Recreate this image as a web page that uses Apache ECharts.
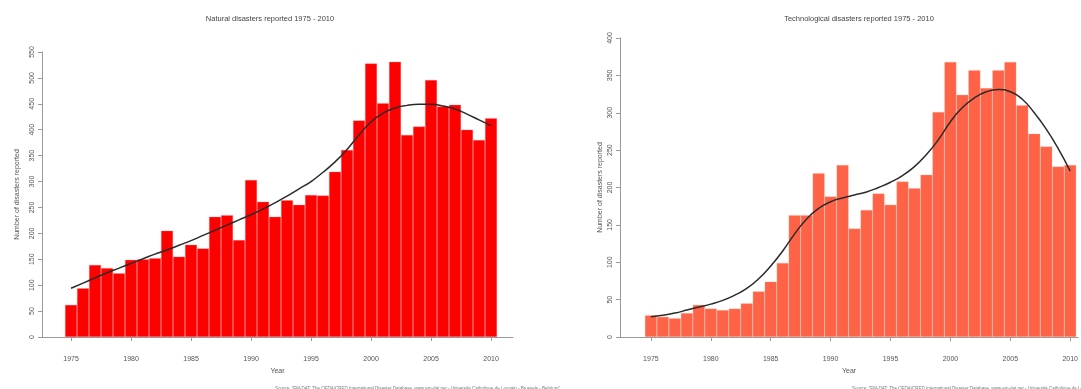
<!DOCTYPE html>
<html>
<head>
<meta charset="utf-8">
<script src="https://cdn.jsdelivr.net/npm/echarts@6/dist/echarts.min.js"></script>
<style>
  html, body { margin: 0; padding: 0; background: #fff; }
  #chart { width: 1081px; height: 389px; }
</style>
</head>
<body>
<div id="chart"></div>
<script>
// Yearly counts of reported disasters, 1975-2010
const years = [1975, 1976, 1977, 1978, 1979, 1980, 1981, 1982, 1983, 1984,
  1985, 1986, 1987, 1988, 1989, 1990, 1991, 1992, 1993, 1994,
  1995, 1996, 1997, 1998, 1999, 2000, 2001, 2002, 2003, 2004,
  2005, 2006, 2007, 2008, 2009, 2010];

const naturalCounts = [62, 94, 139, 133, 123, 149, 150, 152, 205, 155,
  178, 171, 232, 235, 187, 303, 261, 232, 264, 255,
  274, 273, 319, 361, 418, 528, 451, 531, 390, 406,
  496, 445, 448, 400, 380, 422];

// smoothed trend drawn over the natural disaster bars
const naturalTrend = [94, 104, 114, 124, 133, 142, 151, 160, 168, 177,
  186, 196, 206, 216, 226, 236, 247, 259, 272, 286,
  300, 318, 338, 362, 390, 415, 432, 442, 447, 449,
  449, 446, 440, 430, 419, 408];

const technoCounts = [29, 27, 25, 32, 43, 38, 36, 38, 45, 61,
  74, 99, 163, 163, 219, 188, 230, 145, 170, 192,
  177, 208, 199, 217, 301, 368, 324, 357, 333, 357,
  368, 310, 272, 255, 228, 230];

// smoothed trend drawn over the technological disaster bars
const technoTrend = [27, 29, 32, 36, 40, 44, 49, 56, 65, 78,
  95, 115, 138, 158, 172, 181, 186, 190, 194, 200,
  207, 216, 228, 244, 264, 288, 307, 320, 328, 331,
  328, 318, 300, 278, 252, 222];

const yearTicks = [1975, 1980, 1985, 1990, 1995, 2000, 2005, 2010];

const titles = ['Natural disasters reported 1975 - 2010',
  'Technological disasters reported 1975 - 2010'];
const yAxisTitle = 'Number of disasters reported';
const xAxisTitle = 'Year';
const sourceNote = 'Source: "EM-DAT: The OFDA/CRED International Disaster Database, www.em-dat.net - Universit\u00e9 Catholique de Louvain - Brussels - Belgium"';

const FONT = '"Liberation Sans", Arial, sans-serif';
const AXIS_GREY = '#9a9a9a';
const TEXT_GREY = '#555';

function pairs(values) {
  return years.map((y, i) => [y, values[i]]);
}

function xAxisFor(gridIndex, min, max) {
  return {
    type: 'value', gridIndex, min, max, offset: 13,
    splitLine: { show: false },
    axisLine: { show: true, lineStyle: { color: AXIS_GREY, width: 1 } },
    axisTick: { show: true, length: 4, customValues: yearTicks, lineStyle: { color: AXIS_GREY } },
    axisLabel: { customValues: yearTicks, formatter: v => String(v),
      fontSize: 7, color: TEXT_GREY, fontFamily: FONT, margin: 6 },
    name: xAxisTitle, nameLocation: 'middle', nameGap: 18,
    nameTextStyle: { fontSize: 7, color: TEXT_GREY, fontFamily: FONT }
  };
}

function yAxisFor(gridIndex, max, nameGap) {
  return {
    type: 'value', gridIndex, min: 0, max, interval: 50,
    splitLine: { show: false },
    axisLine: { show: true, lineStyle: { color: AXIS_GREY, width: 1 } },
    axisTick: { show: true, length: 4, lineStyle: { color: AXIS_GREY } },
    axisLabel: { rotate: 90, fontSize: 7, color: TEXT_GREY, fontFamily: FONT, margin: 6 },
    name: yAxisTitle, nameLocation: 'middle', nameRotate: 90, nameGap,
    nameTextStyle: { fontSize: 7, color: TEXT_GREY, fontFamily: FONT }
  };
}

function barSeries(index, values, color, border) {
  return {
    type: 'bar', xAxisIndex: index, yAxisIndex: index,
    data: pairs(values), barWidth: 12,
    itemStyle: { color, borderColor: border, borderWidth: 0.5 },
    silent: true
  };
}

function trendSeries(index, values) {
  return {
    type: 'line', xAxisIndex: index, yAxisIndex: index,
    data: pairs(values), smooth: 0.5, showSymbol: false,
    lineStyle: { color: '#2b2b2b', width: 1.5 },
    silent: true, z: 5
  };
}

const chart = echarts.init(document.getElementById('chart'), null, { renderer: 'canvas' });

chart.setOption({
  animation: false,
  backgroundColor: '#fff',
  title: [
    { text: titles[0], left: 265, top: 10, textAlign: 'center',
      textStyle: { fontSize: 7.5, fontWeight: 'normal', color: '#444', fontFamily: FONT } },
    { text: titles[1], left: 854, top: 10, textAlign: 'center',
      textStyle: { fontSize: 7.5, fontWeight: 'normal', color: '#444', fontFamily: FONT } },
    { text: sourceNote, left: 270, top: 381,
      textStyle: { fontSize: 4.5, fontWeight: 'normal', color: '#777', fontFamily: FONT } },
    { text: sourceNote, left: 847, top: 381,
      textStyle: { fontSize: 4.5, fontWeight: 'normal', color: '#777', fontFamily: FONT } }
  ],
  grid: [
    { left: 42, top: 52, width: 471, height: 285, containLabel: false },
    { left: 620, top: 38, width: 459, height: 299, containLabel: false }
  ],
  xAxis: [
    xAxisFor(0, 1972.58, 2011.83),
    xAxisFor(1, 1972.42, 2010.67)
  ],
  yAxis: [
    yAxisFor(0, 550, 21),
    yAxisFor(1, 400, 16)
  ],
  series: [
    barSeries(0, naturalCounts, '#ff0000', 'rgba(255,120,120,0.6)'),
    trendSeries(0, naturalTrend),
    barSeries(1, technoCounts, '#ff6347', 'rgba(255,170,150,0.6)'),
    trendSeries(1, technoTrend)
  ]
});
</script>
</body>
</html>
